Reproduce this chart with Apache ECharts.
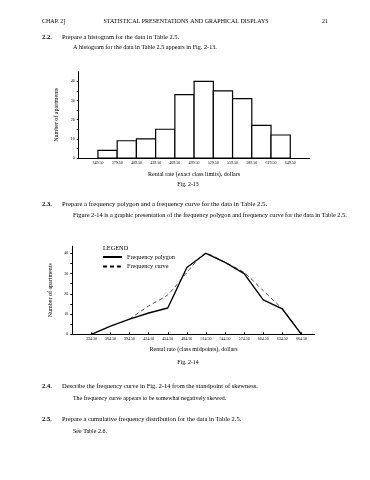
<!DOCTYPE html>
<html>
<head>
<meta charset="utf-8">
<script src="https://cdn.jsdelivr.net/npm/echarts@6/dist/echarts.min.js"></script>
<style>
html,body{margin:0;padding:0;background:#fff;}
#c{width:370px;height:480px;}
</style>
</head>
<body>
<div id="c"></div>
<script>
// ---- data ----
const histEdges = [349.5, 379.5, 409.5, 439.5, 469.5, 499.5, 529.5, 559.5, 589.5, 619.5, 649.5];
const histCounts = [4, 9, 10, 15, 33, 40, 35, 31, 17, 12];
const midpoints = [334.5, 364.5, 394.5, 424.5, 454.5, 484.5, 514.5, 544.5, 574.5, 604.5, 634.5, 664.5];
const polygonCounts = [0, 4, 7.5, 10.5, 13, 33, 40, 35.5, 30, 17, 12.5, 0];
const curveX = [394.5, 424.5, 454.5, 484.5, 514.5, 544.5, 574.5, 604.5, 634.5, 664.5];
const curveCounts = [7.5, 14, 19.5, 30.5, 40, 35.5, 30.5, 21.5, 12.5, 0];
const yTicks = [0, 5, 10, 15, 20, 25, 30, 35, 40];
const yLabels = [0, 10, 20, 30, 40];

const SERIF = 'Liberation Serif';
const chart = echarts.init(document.getElementById('c'), null, {renderer: 'canvas'});

function txt(x, y, s, size, opts) {
  return {
    type: 'text', x: x, y: y,
    style: Object.assign({text: s, fontFamily: SERIF, fontSize: size, fill: '#000', textVerticalAlign: 'middle'}, (opts || {}))
  };
}

const histData = histCounts.map((c, i) => [histEdges[i], histEdges[i + 1], c]);
const polyData = midpoints.map((m, i) => [m, polygonCounts[i]]);
const curveData = curveX.map((m, i) => [m, curveCounts[i]]);

const axisLabelStyle = {fontFamily: SERIF, fontSize: 4, color: '#000'};
const nameStyle = {fontFamily: SERIF, fontSize: 6, color: '#000'};

const option = {
  backgroundColor: '#fff',
  animation: false,
  grid: [
    {left: 78.7, top: 71.7, width: 230.8, height: 86.3},
    {left: 72.3, top: 246.2, width: 242.5, height: 88.1}
  ],
  xAxis: [
    {
      type: 'value', gridIndex: 0, min: 319.5, max: 679.5,
      axisLine: {lineStyle: {color: '#000', width: 1}},
      axisTick: {show: false},
      splitLine: {show: false},
      axisLabel: Object.assign({customValues: histEdges, margin: 3, formatter: v => v.toFixed(2)}, axisLabelStyle),
      name: 'Rental rate (exact class limits), dollars', nameLocation: 'middle', nameGap: 13,
      nameTextStyle: nameStyle
    },
    {
      type: 'value', gridIndex: 1, min: 304.5, max: 685.5,
      axisLine: {lineStyle: {color: '#000', width: 1}},
      axisTick: {show: true, inside: true, length: 2, customValues: midpoints, lineStyle: {color: '#000'}},
      splitLine: {show: false},
      axisLabel: Object.assign({customValues: midpoints, margin: 3, formatter: v => v.toFixed(2)}, axisLabelStyle),
      name: 'Rental rate (class midpoints), dollars', nameLocation: 'middle', nameGap: 12,
      nameTextStyle: nameStyle
    }
  ],
  yAxis: [
    {
      type: 'value', gridIndex: 0, min: 0, max: 45,
      axisLine: {show: true, lineStyle: {color: '#000', width: 1}},
      axisTick: {show: true, length: 2, customValues: yTicks, lineStyle: {color: '#000'}},
      splitLine: {show: false},
      axisLabel: Object.assign({customValues: yLabels, margin: 4}, axisLabelStyle),
      name: 'Number of apartments', nameLocation: 'middle', nameGap: 12,
      nameTextStyle: nameStyle
    },
    {
      type: 'value', gridIndex: 1, min: 0, max: 43.5,
      axisLine: {show: true, lineStyle: {color: '#000', width: 1}},
      axisTick: {show: true, length: 2, customValues: yTicks, lineStyle: {color: '#000'}},
      splitLine: {show: false},
      axisLabel: Object.assign({customValues: yLabels, margin: 4}, axisLabelStyle),
      name: 'Number of apartments', nameLocation: 'middle', nameGap: 12,
      nameTextStyle: nameStyle
    }
  ],
  legend: {
    left: 102, top: 254, orient: 'vertical', itemWidth: 19, itemHeight: 6, itemGap: 3.5, padding: 0,
    itemStyle: {opacity: 0},
    textStyle: {fontFamily: SERIF, fontSize: 6.2, color: '#000'},
    data: ['Frequency polygon', 'Frequency curve']
  },
  series: [
    {
      type: 'custom', xAxisIndex: 0, yAxisIndex: 0,
      encode: {x: [0, 1], y: 2},
      data: histData,
      renderItem: function (params, api) {
        const p0 = api.coord([api.value(0), 0]);
        const p1 = api.coord([api.value(1), api.value(2)]);
        return {
          type: 'rect',
          shape: {x: p0[0], y: p1[1], width: p1[0] - p0[0], height: p0[1] - p1[1]},
          style: {fill: '#fff', stroke: '#000', lineWidth: 1.2}
        };
      }
    },
    {
      name: 'Frequency polygon', type: 'line', xAxisIndex: 1, yAxisIndex: 1,
      data: polyData, symbol: 'none', showSymbol: false,
      lineStyle: {color: '#000', width: 1.4},
      itemStyle: {color: '#000'}
    },
    {
      name: 'Frequency curve', type: 'line', xAxisIndex: 1, yAxisIndex: 1,
      data: curveData, symbol: 'none', showSymbol: false, smooth: 0.2,
      lineStyle: {color: '#000', width: 0.7, type: [4, 3]},
      itemStyle: {color: '#000'}
    }
  ],
  graphic: [
    txt(42, 21, 'CHAP. 2]', 6),
    txt(186, 21, 'STATISTICAL PRESENTATIONS AND GRAPHICAL DISPLAYS', 6, {textAlign: 'center'}),
    txt(328, 21, '21', 6, {textAlign: 'right'}),
    txt(42, 37, '2.2.', 6.5, {fontWeight: 'bold'}),
    txt(62, 37, 'Prepare a histogram for the data in Table 2.5.', 6.5),
    txt(73, 47, 'A histogram for the data in Table 2.5 appears in Fig. 2-13.', 6.2),
    txt(188, 184, 'Fig. 2-13', 5.8, {textAlign: 'center'}),
    txt(42, 204, '2.3.', 6.5, {fontWeight: 'bold'}),
    txt(62, 204, 'Prepare a frequency polygon and a frequency curve for the data in Table 2.5.', 6.7),
    txt(73, 215, 'Figure 2-14 is a graphic presentation of the frequency polygon and frequency curve for the data in Table 2.5.', 6.3),
    txt(103, 248, 'LEGEND', 6.3),
    txt(188, 362, 'Fig. 2-14', 5.8, {textAlign: 'center'}),
    txt(42, 386, '2.4.', 6.5, {fontWeight: 'bold'}),
    txt(62, 386, 'Describe the frequency curve in Fig. 2-14 from the standpoint of skewness.', 6.5),
    txt(73, 398, 'The frequency curve appears to be somewhat negatively skewed.', 5.9),
    txt(42, 419, '2.5.', 6.5, {fontWeight: 'bold'}),
    txt(62, 419, 'Prepare a cumulative frequency distribution for the data in Table 2.5.', 6.5),
    txt(73, 431, 'See Table 2.6.', 6)
  ]
};
chart.setOption(option);
</script>
</body>
</html>
